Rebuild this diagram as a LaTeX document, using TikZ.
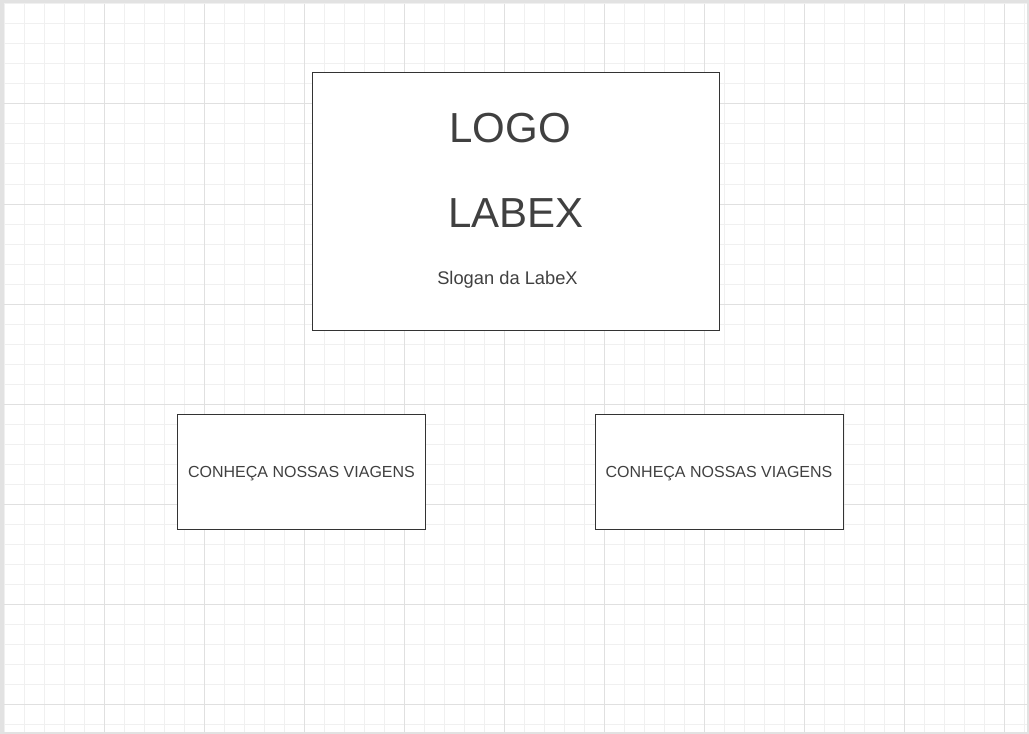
\documentclass[tikz,border=0pt]{standalone}
\usepackage{fontspec}
\setmainfont{Liberation Sans}
\definecolor{txt}{HTML}{404040}
\definecolor{edge}{HTML}{333333}
\definecolor{gminor}{HTML}{F0F0F0}
\definecolor{gmajor}{HTML}{E0E0E0}
\definecolor{frame}{HTML}{E2E2E2}
\tikzset{
  box/.style={draw=edge, line width=0.8bp, fill=white},
  big/.style={text=txt, font=\fontsize{42bp}{50bp}\selectfont, anchor=base, inner sep=0pt},
  mid/.style={text=txt, font=\fontsize{18.3bp}{22bp}\selectfont, anchor=base, inner sep=0pt},
  small/.style={text=txt, font=\fontsize{16bp}{20bp}\selectfont, anchor=base, inner sep=0pt},
}
\begin{document}
\begin{tikzpicture}[x=1bp,y=-1bp]
\useasboundingbox (0,0) rectangle (1029,734);
\fill[frame] (0,0) rectangle (1029,734);
\fill[white] (4,4) rectangle (1027,732);
\foreach \i in {0,...,51} {
  \pgfmathtruncatemacro\xx{4+20*\i}
  \draw[gminor, line width=1bp] (\xx,4) -- (\xx,732);
}
\foreach \i in {0,...,36} {
  \pgfmathtruncatemacro\yy{4+20*\i}
  \draw[gminor, line width=1bp] (4,\yy) -- (1027,\yy);
}
\foreach \i in {1,...,10} {
  \draw[gmajor, line width=1bp] (4+100*\i,4) -- (4+100*\i,732);
}
\foreach \i in {1,...,7} {
  \draw[gmajor, line width=1bp] (4,4+100*\i) -- (1027,4+100*\i);
}
\draw[box] (312.5,72.5) rectangle (719.5,330.5);
\node[box, minimum width=248bp, minimum height=115bp, anchor=north west, inner sep=0pt, outer sep=0pt] (b1) at (177.5,414.5) {};
\node[box, minimum width=248bp, minimum height=115bp, anchor=north west, inner sep=0pt, outer sep=0pt] (b2) at (595.5,414.5) {};
\node[big] (logo) at (510,143) {LOGO};
\node[big] (labex) at (516,227) {LABEX};
\node[mid] (slogan) at (507.5,284.5) {Slogan da LabeX};
\node[small] (t1) at (301.5,477) {CONHEÇA NOSSAS VIAGENS};
\node[small] (t2) at (719,477) {CONHEÇA NOSSAS VIAGENS};
\end{tikzpicture}
\end{document}
